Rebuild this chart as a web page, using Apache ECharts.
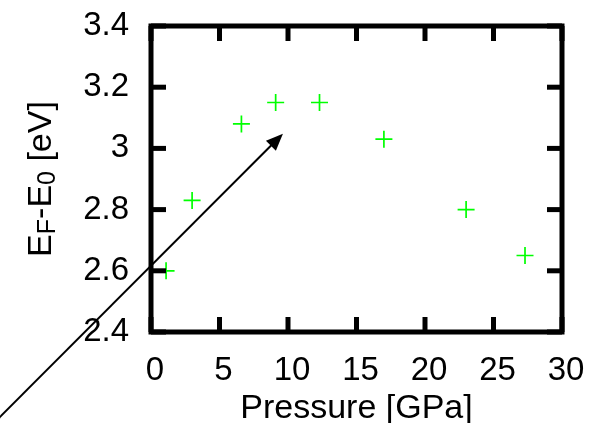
<!DOCTYPE html>
<html>
<head>
<meta charset="utf-8">
<script src="https://cdn.jsdelivr.net/npm/echarts@6/dist/echarts.min.js"></script>
<style>
  html, body { margin: 0; padding: 0; background: #fff; }
  #chart { width: 590px; height: 423px; }
</style>
</head>
<body>
<div id="chart"></div>
<script>
// Pressure (GPa) and Fermi level relative to E0 (eV)
const pressure = [1.1, 3.0, 6.6, 9.1, 12.3, 17.0, 23.0, 27.3];
const energy   = [2.60, 2.83, 3.08, 3.15, 3.15, 3.03, 2.80, 2.65];

// Annotation arrow: tail and head, in data units
const arrowTail = [-11.3, 2.11];
const arrowHead = [9.63, 3.048];

// Axis ticks and their labels
const xTickValues = [0, 5, 10, 15, 20, 25, 30];
const xTickLabels = ['0', '5', '10', '15', '20', '25', '30'];
const yTickValues = [2.4, 2.6, 2.8, 3.0, 3.2, 3.4];
const yTickLabels = ['2.4', '2.6', '2.8', '3', '3.2', '3.4'];

const FONT = '"Liberation Sans", Arial, Helvetica, sans-serif';
const TICK_LEN = 15;
const TICK_W = 5;

// Inward tick marks on all four sides of the plot frame
function renderXTick(params, api) {
  const r = params.coordSys;
  const px = api.coord([api.value(0), yTickValues[0]])[0];
  const style = { stroke: '#000', lineWidth: TICK_W };
  return {
    type: 'group',
    children: [
      { type: 'line', shape: { x1: px, y1: r.y + r.height, x2: px, y2: r.y + r.height - TICK_LEN }, style },
      { type: 'line', shape: { x1: px, y1: r.y, x2: px, y2: r.y + TICK_LEN }, style }
    ]
  };
}
function renderYTick(params, api) {
  const r = params.coordSys;
  const py = api.coord([xTickValues[0], api.value(1)])[1];
  const style = { stroke: '#000', lineWidth: TICK_W };
  return {
    type: 'group',
    children: [
      { type: 'line', shape: { x1: r.x, y1: py, x2: r.x + TICK_LEN, y2: py }, style },
      { type: 'line', shape: { x1: r.x + r.width, y1: py, x2: r.x + r.width - TICK_LEN, y2: py }, style }
    ]
  };
}

// Straight line with a filled triangular head, placed through the axes' scales
function renderArrow(params, api) {
  const p0 = api.coord([api.value(0), api.value(1)]);
  const p1 = api.coord([api.value(2), api.value(3)]);
  const dx = p1[0] - p0[0], dy = p1[1] - p0[1];
  const len = Math.sqrt(dx * dx + dy * dy);
  const ux = dx / len, uy = dy / len;
  const headLen = 17, headHalf = 7;
  const bx = p1[0] - ux * headLen, by = p1[1] - uy * headLen;
  return {
    type: 'group',
    children: [{
      type: 'line',
      shape: { x1: p0[0], y1: p0[1], x2: bx + ux * 2, y2: by + uy * 2 },
      style: { stroke: '#000', lineWidth: 2 }
    }, {
      type: 'polygon',
      shape: { points: [
        [p1[0], p1[1]],
        [bx - uy * headHalf, by + ux * headHalf],
        [bx + uy * headHalf, by - ux * headHalf]
      ] },
      style: { fill: '#000' }
    }]
  };
}

const chart = echarts.init(document.getElementById('chart'), null, { renderer: 'canvas' });

chart.setOption({
  animation: false,
  backgroundColor: '#fff',
  grid: {
    left: 151, top: 26, width: 411, height: 306,
    containLabel: false, outerBoundsMode: 'none',
    show: true, borderColor: '#000', borderWidth: 5, backgroundColor: 'transparent'
  },
  xAxis: {
    type: 'value', min: 0, max: 30, interval: 5,
    axisLine: { show: false },
    axisTick: { show: false },
    splitLine: { show: false },
    axisLabel: {
      color: '#000', fontFamily: FONT, fontSize: 33, margin: 22, padding: [0, 0, 0, 8],
      formatter: (v) => xTickLabels[xTickValues.indexOf(v)]
    },
    name: 'Pressure [GPa]',
    nameLocation: 'middle', nameGap: 48,
    nameTextStyle: { color: '#000', fontFamily: FONT, fontSize: 34 }
  },
  yAxis: {
    type: 'value', min: 2.4, max: 3.4, interval: 0.2,
    axisLine: { show: false },
    axisTick: { show: false },
    splitLine: { show: false },
    axisLabel: {
      color: '#000', fontFamily: FONT, fontSize: 33, margin: 22,
      formatter: (v) => yTickLabels[Math.round((v - yTickValues[0]) / 0.2)]
    },
    name: '{m|E}{s|F}{m|-E}{s|0}{m| [eV]}',
    nameLocation: 'middle', nameGap: 90, nameRotate: 90,
    nameTextStyle: {
      color: '#000', fontFamily: FONT, fontSize: 34,
      rich: {
        m: { fontFamily: FONT, fontSize: 34, color: '#000' },
        s: { fontFamily: FONT, fontSize: 25, color: '#000', padding: [14, 0, 0, 0] }
      }
    }
  },
  series: [{
    type: 'custom', silent: true, clip: false,
    data: xTickValues.map((v) => [v, yTickValues[0]]),
    renderItem: renderXTick, z: 5
  }, {
    type: 'custom', silent: true, clip: false,
    data: yTickValues.map((v) => [xTickValues[0], v]),
    renderItem: renderYTick, z: 5
  }, {
    type: 'scatter',
    data: pressure.map((p, i) => [p, energy[i]]),
    symbol: 'path://M0,4.5h10v1h-10z M4.5,0h1v10h-1z',
    symbolSize: 17,
    itemStyle: { color: '#00ff00', opacity: 1 },
    z: 3
  }, {
    type: 'custom',
    clip: false,
    silent: true,
    data: [[arrowTail[0], arrowTail[1], arrowHead[0], arrowHead[1]]],
    renderItem: renderArrow,
    z: 4
  }]
});
</script>
</body>
</html>
